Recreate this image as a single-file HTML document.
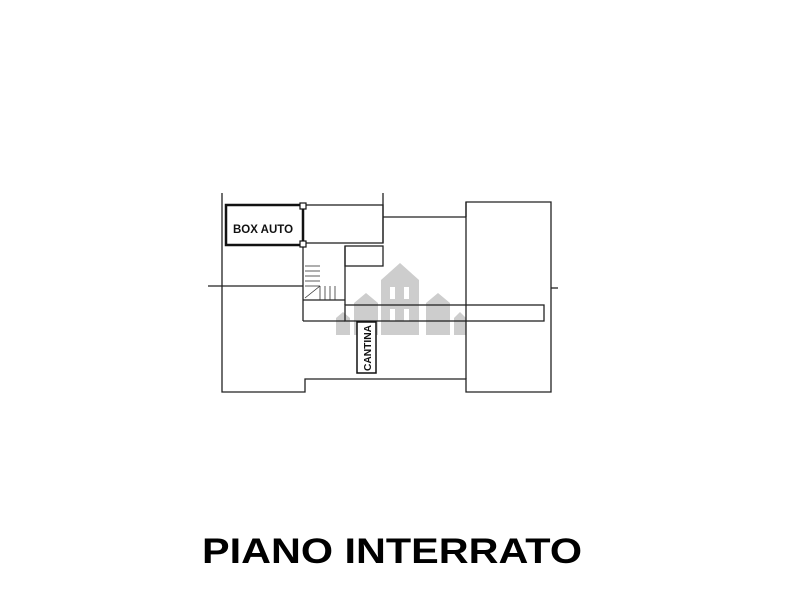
<!DOCTYPE html>
<html><head><meta charset="utf-8"><style>
html,body{margin:0;padding:0;background:#fff;width:800px;height:600px;overflow:hidden}
</style></head><body>
<svg width="800" height="600" viewBox="0 0 800 600" xmlns="http://www.w3.org/2000/svg">
<rect width="800" height="600" fill="#fff"/>
<g fill="#c8c8c8" opacity="0.9">
<polygon points="381,335 381,280 400,263 419,280 419,335"/>
<polygon points="354,335 354,303 366,293 378,303 378,335"/>
<polygon points="426,335 426,303 438,293 450,303 450,335"/>
<polygon points="336,335 336,318 343,312 350,318 350,335"/>
<polygon points="454,335 454,318 460,312 466,318 466,335"/>
</g>
<g fill="#fff"><rect x="390" y="287" width="5" height="12"/><rect x="404" y="287" width="5" height="12"/><rect x="390" y="309" width="5" height="12"/><rect x="404" y="309" width="5" height="12"/></g>
<g fill="none" stroke="#222" stroke-width="1.3">
<polyline points="222,193 222,392 305,392 305,379 466,379 466,392 551,392 551,202 466,202 466,217"/>
<line x1="466" y1="202" x2="466" y2="379"/>
<line x1="383" y1="217" x2="466" y2="217"/>
<line x1="383" y1="193" x2="383" y2="243"/>
<rect x="303" y="205" width="80" height="38"/>
<rect x="345" y="246" width="38" height="20"/>
<line x1="345" y1="246" x2="345" y2="305"/>
<line x1="303" y1="245" x2="303" y2="321"/>
<line x1="303" y1="300" x2="345" y2="300"/>
<rect x="345" y="305" width="199" height="16"/>
<line x1="303" y1="321" x2="345" y2="321"/>
<line x1="208" y1="286" x2="303" y2="286"/>
<line x1="551" y1="288" x2="558" y2="288"/>
</g>
<g stroke="#333" stroke-width="0.8">
<line x1="305" y1="266" x2="320" y2="266"/><line x1="305" y1="271" x2="320" y2="271"/><line x1="305" y1="276" x2="320" y2="276"/><line x1="305" y1="281" x2="320" y2="281"/><line x1="305" y1="286" x2="320" y2="286"/>
<line x1="305" y1="298" x2="320" y2="286"/><line x1="320" y1="286" x2="320" y2="300"/>
<line x1="325" y1="286" x2="325" y2="300"/><line x1="330" y1="286" x2="330" y2="300"/><line x1="335" y1="286" x2="335" y2="300"/>
</g>
<rect x="226" y="205" width="77" height="40" fill="none" stroke="#111" stroke-width="2.5"/>
<rect x="300" y="203" width="6" height="6" fill="#fff" stroke="#111" stroke-width="1.2"/>
<rect x="300" y="241" width="6" height="6" fill="#fff" stroke="#111" stroke-width="1.2"/>
<text x="233" y="233" font-family="Liberation Sans, sans-serif" font-weight="bold" font-size="12" fill="#111" textLength="60" lengthAdjust="spacingAndGlyphs">BOX AUTO</text>
<rect x="357" y="322" width="19" height="51" fill="#fff" stroke="#111" stroke-width="1.5"/>
<text transform="translate(371,371) rotate(-90)" font-family="Liberation Sans, sans-serif" font-weight="bold" font-size="10" fill="#111" textLength="46" lengthAdjust="spacingAndGlyphs">CANTINA</text>
<text x="202" y="563" font-family="Liberation Sans, sans-serif" font-weight="bold" font-size="35" fill="#000" textLength="380" lengthAdjust="spacingAndGlyphs">PIANO INTERRATO</text>
</svg>
</body></html>
